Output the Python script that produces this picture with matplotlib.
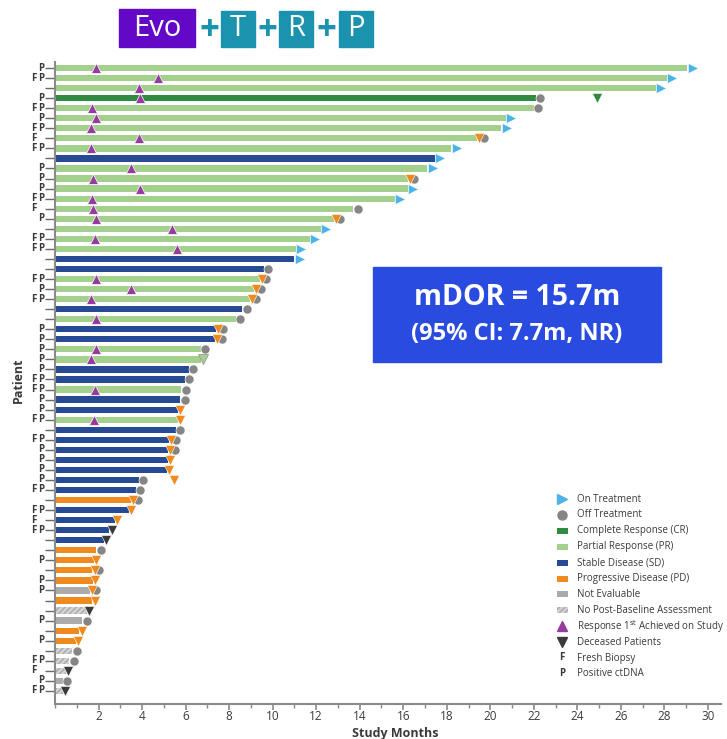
import matplotlib
matplotlib.use("Agg")
import matplotlib.pyplot as plt
from matplotlib.patches import Rectangle

plt.rcParams["font.family"] = ["Open Sans", "DejaVu Sans"]

# --- dati (una riga per paziente, dall'alto in basso) ---
biopsy = ["P", "FP", "", "P", "FP", "P", "FP", "F", "FP", "", "P", "P", "P", "FP", "F", "P",
          "", "FP", "FP", "", "", "FP", "P", "FP", "", "", "P", "P", "P", "P", "P", "FP",
          "FP", "P", "P", "FP", "", "FP", "P", "P", "P", "P", "FP", "", "FP", "F", "FP",
          "", "", "P", "", "P", "P", "", "", "P", "", "P", "", "FP", "F", "P", "FP"]

response = ["PR", "PR", "PR", "CR", "PR", "PR", "PR", "PR", "PR", "SD", "PR", "PR", "PR", "PR",
            "PR", "PR", "PR", "PR", "PR", "SD", "SD", "PR", "PR", "PR", "SD", "PR", "SD", "SD",
            "PR", "PR", "SD", "SD", "PR", "SD", "SD", "PR", "SD", "SD", "SD", "SD", "SD", "SD",
            "SD", "PD", "SD", "SD", "SD", "SD", "PD", "PD", "PD", "PD", "NE", "PD", "NPB", "NE",
            "PD", "PD", "NPB", "NPB", "NPB", "NE", "NPB"]

months = [29.05, 28.1, 27.6, 22.1, 22.0, 20.7, 20.5, 19.4, 18.2, 17.45, 17.1, 16.2, 16.2, 15.6,
          13.7, 12.8, 12.2, 11.7, 11.05, 11.0, 9.6, 9.4, 9.15, 8.95, 8.6, 8.3, 7.4, 7.35, 6.7,
          6.7, 6.15, 5.95, 5.8, 5.75, 5.65, 5.65, 5.55, 5.25, 5.2, 5.2, 5.15, 3.85, 3.7, 3.5,
          3.4, 2.75, 2.5, 2.25, 1.9, 1.8, 1.72, 1.75, 1.6, 1.72, 1.45, 1.25, 1.12, 0.95, 0.8,
          0.65, 0.5, 0.35, 0.35]

# stato finale: on = in trattamento, off = fuori trattamento, pd = progressione,
# pdoff = progressione + fuori trattamento, dead = deceduto, prx = triangolo verde chiaro
status = ["on", "on", "on", "off", "off", "on", "on", "pdoff", "on", "on", "on", "pdoff", "on",
          "on", "off", "pdoff", "on", "on", "on", "on", "off", "pdoff", "pdoff", "pdoff", "off",
          "off", "pdoff", "pdoff", "off", "prx", "off", "off", "off", "off", "pd", "pd", "off",
          "pdoff", "pdoff", "pd", "pd", "off", "off", "pdoff", "pd", "pd", "dead", "dead", "off",
          "pd", "pdoff", "pd", "pdoff", "pd", "dead", "off", "pd", "pd", "off", "off", "dead",
          "off", "dead"]

# primo raggiungimento della risposta (mesi), None = nessuno
first_resp = [1.87, 4.73, 3.87, 3.9, 1.7, 1.87, 1.65, 3.87, 1.65, None, 3.48, 1.73, 3.9, 1.7,
              1.76, 1.9, 5.39, 1.84, 5.59, None, None, 1.87, 3.48, 1.64, None, 1.9, None, None,
              1.87, 1.64, None, None, 1.84, None, None, 1.78] + [None] * 27

# marcatori extra: (riga, mesi, tipo)
extra = [(3, 24.9, "deadcr"), (41, 5.48, "pd")]

colori = {"CR": "#2E8B40", "PR": "#A3D08C", "SD": "#264B94", "PD": "#EF8A1F",
          "NE": "#ABABAB", "NPB": "#D4D4D4"}
c_on = "#4BB3E6"
c_off = "#858585"
c_pd = "#EF8A1F"
c_resp = "#963C9E"
c_dead = "#3A3A3A"
c_txt = "#3A3A3A"

fig = plt.figure(figsize=(7.27, 7.39), dpi=100)
ax = fig.add_axes([55 / 727, 35 / 739, 666 / 727, 642 / 739])

n = len(months)
righe = list(range(n))

# barre
for i in righe:
    r = response[i]
    if r == "NPB":
        ax.barh(i, months[i], height=0.62, color=colori[r], edgecolor="#A8A8A8",
                hatch="//////", linewidth=0, zorder=2)
    else:
        ax.barh(i, months[i], height=0.62, color=colori[r], linewidth=0, zorder=2)

# marcatori di fine
ms = 6.5
for i in righe:
    x = months[i]
    s = status[i]
    if s == "on":
        ax.plot(x + 0.25, i, ">", color=c_on, ms=ms, mec="white", mew=0.4, zorder=5)
    elif s == "off":
        ax.plot(x + 0.2, i, "o", color=c_off, ms=ms, mec="white", mew=0.4, zorder=5)
    elif s == "pdoff":
        ax.plot(x + 0.3, i, "o", color=c_off, ms=ms, mec="white", mew=0.4, zorder=4)
        ax.plot(x + 0.1, i, "v", color=c_pd, ms=ms + 0.5, mec="white", mew=0.4, zorder=5)
    elif s == "pd":
        ax.plot(x + 0.1, i, "v", color=c_pd, ms=ms + 0.5, mec="white", mew=0.4, zorder=5)
    elif s == "dead":
        ax.plot(x + 0.1, i, "v", color=c_dead, ms=ms + 0.5, mec="white", mew=0.4, zorder=5)
    elif s == "prx":
        ax.plot(x + 0.1, i, "v", color=colori["PR"], ms=ms + 0.5, mec="#999999", mew=0.6, zorder=5)

for i, x, t in extra:
    if t == "deadcr":
        ax.plot(x, i, "v", color=colori["CR"], ms=ms, mec="white", mew=0.4, zorder=5)
    else:
        ax.plot(x, i, "v", color=c_pd, ms=ms + 0.5, mec="white", mew=0.4, zorder=5)

# risposta raggiunta
for i in righe:
    if first_resp[i] is not None:
        ax.plot(first_resp[i], i, "^", color=c_resp, ms=ms + 0.5, mec="white", mew=0.5, zorder=6)

# assi
ax.set_xlim(0, 30.6)
ax.set_ylim(n - 1 + 1.3, -0.6)
ax.set_xticks(range(2, 31, 2))
ax.set_xticks(range(0, 31), minor=True)
ax.set_yticks(righe)
ax.set_yticklabels([])
ax.tick_params(axis="x", which="major", length=4, width=1.2, color="#8A8A8A",
               labelsize=8.5, labelcolor=c_txt, pad=0.5)
ax.tick_params(axis="x", which="minor", length=3, width=1, color="#8A8A8A")
ax.tick_params(axis="y", length=7, width=1, color="#6A6A6A")
for lato in ["top", "right"]:
    ax.spines[lato].set_visible(False)
for lato in ["left", "bottom"]:
    ax.spines[lato].set_color("#8A8A8A")
    ax.spines[lato].set_linewidth(1.5)

# etichette F / P
trans = ax.get_yaxis_transform()
for i in righe:
    if "F" in biopsy[i]:
        ax.text(-21 / 666, i, "F", transform=trans, ha="center", va="center",
                fontsize=7, fontweight="bold", color=c_txt)
    if "P" in biopsy[i]:
        ax.text(-13.5 / 666, i, "P", transform=trans, ha="center", va="center",
                fontsize=7, fontweight="bold", color=c_txt)

fig.text(18 / 727, 1 - 380 / 739, "Patient", rotation=90, ha="center", va="center",
         fontsize=9, fontweight="bold", color=c_txt)
fig.text(395 / 727, 1 - 733 / 739, "Study Months", ha="center", va="center",
         fontsize=9, fontweight="bold", color=c_txt)

# legenda disegnata a mano
nomi = ["On Treatment", "Off Treatment", "Complete Response (CR)", "Partial Response (PR)",
        "Stable Disease (SD)", "Progressive Disease (PD)", "Not Evaluable",
        "No Post-Baseline Assessment", r"Response 1$^{\mathrm{st}}$ Achieved on Study",
        "Deceased Patients", "Fresh Biopsy", "Positive ctDNA"]
simboli = [(">", c_on), ("o", c_off), ("box", colori["CR"]), ("box", colori["PR"]),
           ("box", colori["SD"]), ("box", colori["PD"]), ("box", colori["NE"]),
           ("hatch", colori["NPB"]), ("^", c_resp), ("v", c_dead), ("F", c_txt), ("P", c_txt)]
lx = 562 / 727
tx = 577 / 727
for k, (nome, (sym, col)) in enumerate(zip(nomi, simboli)):
    y = 1 - (499 + 15.9 * k) / 739
    if sym in [">", "o", "^", "v"]:
        fig.add_artist(plt.Line2D([lx], [y], marker=sym, color=col, ms=6.5, ls="none",
                                  transform=fig.transFigure))
    elif sym in ["box", "hatch"]:
        fig.patches.append(Rectangle((lx - 5 / 727, y - 3 / 739), 11 / 727, 6 / 739,
                                     transform=fig.transFigure, facecolor=col,
                                     edgecolor="#A8A8A8" if sym == "hatch" else col,
                                     hatch="//////" if sym == "hatch" else None, linewidth=0))
    else:
        fig.text(lx, y, sym, ha="center", va="center", fontsize=7, fontweight="bold", color=col)
    fig.text(tx, y, nome, ha="left", va="center", fontsize=7, color=c_txt)

# riquadro mDOR
fig.patches.append(Rectangle((373 / 727, 1 - 362 / 739), 288 / 727, 95 / 739,
                             transform=fig.transFigure, color="#2A4BE0", zorder=10))
fig.text(517 / 727, 1 - 298 / 739, "mDOR = 15.7m", ha="center", va="center",
         fontsize=20.5, fontweight="bold", color="white", zorder=11)
fig.text(517 / 727, 1 - 334 / 739, "(95% CI: 7.7m, NR)", ha="center", va="center",
         fontsize=17, fontweight="bold", color="white", zorder=11)

# titolo con riquadri
viola = "#6208C6"
teal = "#1B93AE"
riquadri = [("Evo", 119, 76, 9, viola), ("T", 221, 34, 11, teal),
            ("R", 279, 34, 11, teal), ("P", 339, 34, 11, teal)]
for testo, x0, w, y0, col in riquadri:
    fig.patches.append(Rectangle((x0 / 727, 1 - 47 / 739), w / 727, (47 - y0) / 739,
                                 transform=fig.transFigure, color=col))
    fig.text((x0 + w / 2) / 727, 1 - 29 / 739, testo, ha="center", va="center",
             fontsize=21, color="white")
for xp in [209, 267, 326]:
    fig.text(xp / 727, 1 - 31 / 739, "+", ha="center", va="center",
             fontsize=25, fontweight="bold", color=teal)

fig.savefig("out.png", dpi=100)
